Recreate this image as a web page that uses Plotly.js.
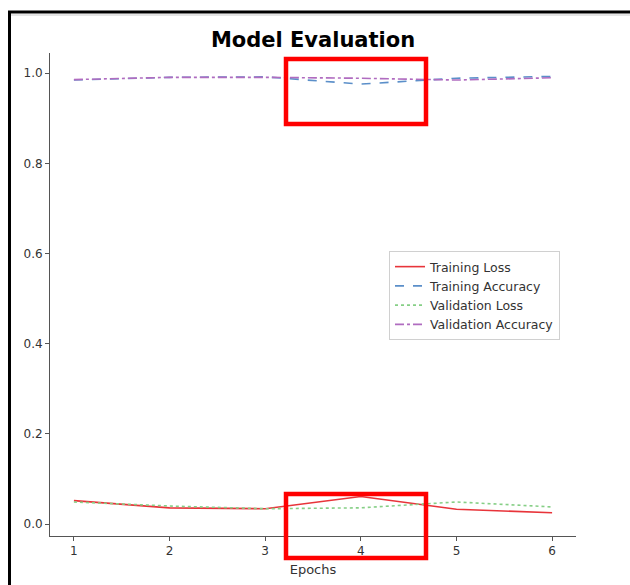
<!DOCTYPE html>
<html>
<head>
<meta charset="utf-8">
<script src="https://cdn.plot.ly/plotly-3.0.1.min.js"></script>
<style>html,body{margin:0;padding:0;background:#fff;}#chart{width:630px;height:585px;}</style>
</head>
<body>
<div id="chart"></div>
<script>
const epochs = [1, 2, 3, 4, 5, 6];
const trainingLoss = [0.052, 0.036, 0.034, 0.061, 0.033, 0.025];
const trainingAccuracy = [0.985, 0.991, 0.992, 0.976, 0.989, 0.993];
const validationLoss = [0.049, 0.040, 0.034, 0.036, 0.049, 0.038];
const validationAccuracy = [0.986, 0.991, 0.991, 0.989, 0.985, 0.990];
const yTicks = [0.0, 0.2, 0.4, 0.6, 0.8, 1.0];

const L = 50, R = 54, T = 53, B = 49, W = 630, H = 585;
const pw = W - L - R, ph = H - T - B;
const px = v => (v - L) / pw;
const py = v => (H - B - v) / ph;

const traces = [
  {x: epochs, y: trainingLoss, name: 'Training Loss', mode: 'lines',
   line: {color: '#e8343a', width: 1.6, dash: 'solid'}},
  {x: epochs, y: trainingAccuracy, name: 'Training Accuracy', mode: 'lines',
   line: {color: '#5b8fc9', width: 1.6, dash: 'dash'}},
  {x: epochs, y: validationLoss, name: 'Validation Loss', mode: 'lines',
   line: {color: '#86cf86', width: 1.6, dash: 'dot'}},
  {x: epochs, y: validationAccuracy, name: 'Validation Accuracy', mode: 'lines',
   line: {color: '#b06cc0', width: 1.6, dash: 'dashdot'}}
];

const axisCommon = {
  showgrid: false, zeroline: false, showline: true, linecolor: '#555', linewidth: 1,
  ticks: 'outside', ticklen: 4, tickcolor: '#555', tickwidth: 1,
  tickfont: {family: 'DejaVu Sans', size: 12, color: '#333'}, mirror: false
};

const layout = {
  width: W, height: H,
  margin: {l: L, r: R, t: T, b: B, autoexpand: false},
  paper_bgcolor: '#fff', plot_bgcolor: '#fff',
  title: {text: '<b>Model Evaluation</b>', font: {family: 'DejaVu Sans', size: 21, color: '#000'},
          x: 0.5, xref: 'paper', xanchor: 'center', y: 1 - 40/H, yref: 'container', yanchor: 'middle'},
  xaxis: Object.assign({}, axisCommon, {range: [0.75, 6.25], tickvals: epochs,
    ticktext: epochs.map(String),
    title: {text: 'Epochs', font: {family: 'DejaVu Sans', size: 13, color: '#333'}, standoff: 7}}),
  yaxis: Object.assign({}, axisCommon, {range: [-0.0265, 1.045], tickvals: yTicks,
    ticktext: yTicks.map(v => v.toFixed(1))}),
  legend: {x: px(389), y: py(251), xanchor: 'left', yanchor: 'top', bgcolor: '#fff',
    bordercolor: '#d0d0d0', borderwidth: 1, font: {family: 'DejaVu Sans', size: 12.5, color: '#333'},
    tracegroupgap: 0},
  showlegend: true,
  shapes: [
    {type: 'rect', xref: 'paper', yref: 'paper', x0: px(9.5), x1: px(660), y0: py(12), y1: py(620),
     line: {color: '#000', width: 3}},
    {type: 'line', xref: 'paper', yref: 'paper', x0: px(11), x1: px(660), y0: py(15), y1: py(15),
     line: {color: '#ccc', width: 1}},
    {type: 'rect', xref: 'paper', yref: 'paper', x0: px(286), x1: px(426), y0: py(59), y1: py(124),
     line: {color: '#ff0000', width: 4.5}},
    {type: 'rect', xref: 'paper', yref: 'paper', x0: px(286), x1: px(426), y0: py(494), y1: py(558),
     line: {color: '#ff0000', width: 4.5}}
  ]
};

Plotly.newPlot('chart', traces, layout, {displayModeBar: false, staticPlot: true});
</script>
</body>
</html>
